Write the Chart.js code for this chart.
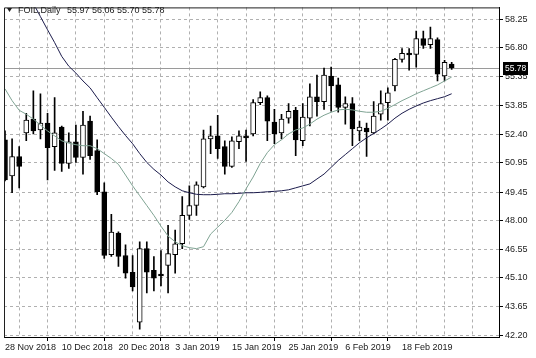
<!DOCTYPE html>
<html><head><meta charset="utf-8">
<script src="https://cdn.jsdelivr.net/npm/chart.js@4"></script>
<style>html,body{margin:0;padding:0;background:#fff;overflow:hidden}#w{width:536px;height:358px;position:relative}</style>
</head><body><div id="w"><canvas id="c"></canvas></div>
<script>
const symbolName = 'FOIL,Daily';
const opens  = [52.12,50.28,51.27,52.47,53.17,52.62,52.97,51.77,52.77,50.92,52.02,51.22,53.07,51.57,49.48,46.29,47.38,46.24,45.39,42.85,46.59,45.49,45.24,45.74,46.29,46.84,48.28,48.78,49.73,52.17,52.32,51.77,50.77,52.02,52.32,52.42,54.01,54.26,53.02,52.47,53.22,53.62,52.07,53.22,54.31,54.06,55.36,54.91,53.77,53.96,52.57,52.72,52.47,53.42,54.01,54.86,56.21,56.46,56.46,57.26,56.96,57.21,55.36,55.97];
const highs  = [52.57,52.17,51.77,53.47,54.61,54.46,53.47,54.26,52.82,52.47,52.87,53.57,53.32,52.12,49.93,48.33,47.45,46.79,46.24,46.94,46.94,46.19,46.49,47.78,47.53,49.23,49.78,49.98,52.62,52.82,53.37,52.07,52.27,52.57,52.62,54.16,54.56,54.36,53.67,53.42,53.96,53.77,53.96,54.96,55.41,55.76,55.81,55.26,54.31,54.26,53.07,52.97,54.06,54.61,54.76,56.26,56.76,56.76,57.65,57.65,57.85,57.30,56.16,56.06];
const lows   = [50.03,49.43,49.68,52.07,52.42,52.17,50.08,50.57,50.52,50.67,50.97,50.38,51.12,49.33,46.09,46.19,45.69,45.09,44.44,42.50,44.34,44.44,44.69,44.34,45.34,46.59,48.08,48.28,49.68,51.42,51.17,50.38,50.72,51.67,51.02,52.32,53.91,52.07,51.92,52.17,52.97,51.32,51.82,52.82,53.32,53.67,53.57,53.52,52.92,51.82,52.07,51.27,52.42,53.12,53.12,54.61,56.06,55.66,55.81,56.76,56.76,55.11,55.11,55.70];
const closes = [50.08,51.27,50.77,53.12,52.57,52.97,51.72,52.47,50.92,52.02,51.22,52.87,51.32,49.48,46.24,47.43,46.19,45.34,44.64,46.59,45.39,45.09,45.20,46.34,46.84,48.28,48.78,49.83,52.17,52.32,51.67,50.77,52.07,52.32,52.22,54.01,54.26,53.07,52.42,53.17,53.57,52.12,53.27,54.31,54.06,55.41,54.86,53.77,53.96,52.67,52.77,52.52,53.32,53.96,54.51,56.21,56.51,56.43,57.26,56.91,57.26,55.46,56.06,55.78];
const maSlow = [62.20,61.40,60.60,59.80,59.05,58.38,57.71,57.06,56.36,55.86,55.51,55.11,54.76,54.26,53.77,53.27,52.79,52.34,51.92,51.42,50.97,50.62,50.33,49.98,49.73,49.53,49.43,49.35,49.33,49.33,49.35,49.38,49.38,49.40,49.43,49.43,49.45,49.48,49.50,49.53,49.58,49.68,49.78,49.88,50.13,50.38,50.72,51.07,51.37,51.67,51.97,52.22,52.44,52.67,52.92,53.22,53.47,53.67,53.84,53.99,54.11,54.21,54.31,54.46];
const maFast = [54.71,54.11,53.62,53.42,53.17,52.87,52.57,52.32,52.07,51.95,51.87,51.82,51.82,51.67,51.42,51.17,50.87,50.33,49.78,49.28,48.78,48.28,47.73,47.23,46.94,46.74,46.64,46.59,46.69,47.33,47.68,48.03,48.43,48.98,49.63,50.23,50.92,51.47,51.87,52.12,52.42,52.62,52.72,52.92,53.17,53.37,53.52,53.64,53.67,53.64,53.57,53.52,53.52,53.57,53.72,53.91,54.11,54.28,54.46,54.61,54.76,54.91,55.11,55.31];
const dateLabels = ['28 Nov 2018','10 Dec 2018','20 Dec 2018','3 Jan 2019','15 Jan 2019','25 Jan 2019','6 Feb 2019','18 Feb 2019'];
const dateLabelIndex = [0,8,16,24,32,40,48,56];
const priceTickLabels = ['42.20','43.65','45.10','46.55','48.00','49.45','50.95','52.40','53.85','55.35','56.80','58.25'];

const FONT = 'Liberation Sans, Arial, sans-serif';
const idx = opens.map((_, i) => i);
const last = idx.length - 1;
const isUp = i => closes[i] >= opens[i];

const deco = {
  id: 'deco',
  beforeDatasetsDraw(chart) {
    const {ctx, chartArea: a, scales: {y}} = chart;
    const py = Math.round(y.getPixelForValue(closes[last])) + 0.5;
    ctx.save();
    ctx.strokeStyle = '#9a9a9a'; ctx.lineWidth = 1;
    ctx.beginPath(); ctx.moveTo(a.left, py); ctx.lineTo(a.right, py); ctx.stroke();
    ctx.restore();
  },
  afterDraw(chart) {
    const {ctx, chartArea: a, scales: {y}} = chart;
    ctx.save();
    ctx.strokeStyle = '#202020'; ctx.lineWidth = 1;
    ctx.beginPath();
    ctx.moveTo(a.left + 0.5, a.bottom + 0.5); ctx.lineTo(a.left + 0.5, a.top + 0.5); ctx.lineTo(a.right, a.top + 0.5);
    ctx.stroke();
    ctx.fillStyle = '#202020';
    ctx.beginPath(); ctx.moveTo(7, 8); ctx.lineTo(12, 8); ctx.lineTo(9.5, 12); ctx.closePath(); ctx.fill();
    ctx.font = '9px ' + FONT; ctx.textBaseline = 'middle'; ctx.textAlign = 'left';
    ctx.fillText(symbolName, 18, 10.5);
    const hdr = [opens[last], highs[last], lows[last], closes[last]].map(v => v.toFixed(2)).join(' ');
    ctx.fillText(hdr, 67, 10.5);
    const py = Math.round(y.getPixelForValue(closes[last]));
    ctx.fillStyle = '#000';
    ctx.fillRect(a.right + 4, py - 6, 25, 13);
    ctx.fillStyle = '#fff';
    ctx.font = '8.5px ' + FONT;
    ctx.fillText(closes[last].toFixed(2), a.right + 6, py + 0.5);
    ctx.restore();
  }
};

new Chart(document.getElementById('c'), {
  data: {
    datasets: [
      { type: 'line', order: 1, label: 'MA fast', data: idx.map(i => ({x: i, y: maFast[i]})),
        borderColor: '#7fa393', borderWidth: 1, pointRadius: 0, tension: 0 },
      { type: 'line', order: 1, label: 'MA slow', data: idx.map(i => ({x: i, y: maSlow[i]})),
        borderColor: '#1c1c4c', borderWidth: 1, pointRadius: 0, tension: 0 },
      { type: 'bar', order: 2, label: 'body', data: idx.map(i => ({x: i, y: [opens[i], closes[i]]})),
        backgroundColor: c => isUp(c.dataIndex) ? '#ffffff' : '#000000',
        borderColor: '#000', borderWidth: 1, borderSkipped: false, barThickness: 5, grouped: false, minBarLength: 2 },
      { type: 'bar', order: 3, label: 'wick', data: idx.map(i => ({x: i, y: [lows[i], highs[i]]})),
        backgroundColor: '#000', borderWidth: 0, barThickness: 1, grouped: false }
    ]
  },
  options: {
    responsive: true, maintainAspectRatio: false, animation: false,
    layout: { padding: { left: 4, top: 1, right: 0, bottom: 0 } },
    plugins: { legend: { display: false }, tooltip: { enabled: false }, title: { display: false } },
    scales: {
      x: {
        type: 'linear', min: -0.141, max: 69.676, offset: false,
        afterBuildTicks: s => { s.ticks = []; for (let v = 0; v <= 68; v += 4) s.ticks.push({value: v}); },
        afterFit: s => { s.height = 21; },
        ticks: {
          autoSkip: false, maxRotation: 0, align: 'start', padding: 1, color: '#202020',
          font: { family: FONT, size: 9 },
          callback: v => { const k = dateLabelIndex.indexOf(v); return k >= 0 ? dateLabels[k] : ''; }
        },
        grid: {
          color: '#b0b0b0', lineWidth: 1, tickLength: 4,
          tickColor: c => (c.tick && dateLabelIndex.indexOf(c.tick.value) >= 0) ? '#000' : 'rgba(0,0,0,0)'
        },
        border: { display: true, color: '#000', width: 1, dash: [3, 3] }
      },
      y: {
        type: 'linear', position: 'right', min: 42.1003, max: 58.848,
        afterBuildTicks: s => { s.ticks = priceTickLabels.map(t => ({value: parseFloat(t)})); },
        afterFit: s => { s.width = 37; },
        ticks: {
          padding: 2, color: '#202020', font: { family: FONT, size: 9 },
          callback: (v, i) => priceTickLabels[i]
        },
        grid: { color: '#b0b0b0', lineWidth: 1, tickLength: 4, tickColor: '#000' },
        border: { display: true, color: '#000', width: 1, dash: [3, 3] }
      }
    }
  },
  plugins: [deco]
});
</script>
</body></html>
